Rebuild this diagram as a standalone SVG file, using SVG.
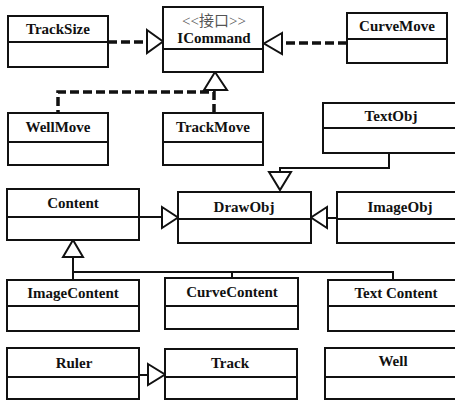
<svg xmlns="http://www.w3.org/2000/svg" width="455" height="403" viewBox="0 0 455 403">
<style>
.box{fill:#fff;stroke:#111;stroke-width:2}
.div{stroke:#111;stroke-width:2}
.t{font-family:'Liberation Serif',serif;font-weight:700;font-size:15px;fill:#111;text-anchor:middle}
.st{font-family:'Liberation Serif','Noto Sans CJK SC',serif;font-size:15px;fill:#555;text-anchor:middle}
.dash{fill:none;stroke:#111;stroke-width:3.5;stroke-dasharray:9,4}
.sol{fill:none;stroke:#111;stroke-width:2}
.tri{fill:#fff;stroke:#111;stroke-width:2}
</style>
<rect width="455" height="403" fill="#fff"/>
<g id="connectors">
<path class="dash" d="M108,42 H147"/>
<polygon class="tri" points="147,30 163,41.5 147,53"/>
<path class="dash" d="M347,43 H282"/>
<polygon class="tri" points="282,33 264,43.5 282,54"/>
<path class="dash" d="M214,113 V92 H58 V113"/>
<polygon class="tri" points="204,90 215,72 227,90"/>
<path class="sol" d="M389,153 V168 H280 V172"/>
<polygon class="tri" points="269,172 280,190 291,172"/>
<path class="sol" d="M139,217 H162"/>
<polygon class="tri" points="162,207 178,217.5 162,228"/>
<path class="sol" d="M337,218 H327"/>
<polygon class="tri" points="327,207 311,217.5 327,228"/>
<path class="sol" d="M73,257 V280 M73,272 H393 V280 M232,272 V278"/>
<polygon class="tri" points="63,257 73,240 83,257"/>
<path class="sol" d="M139,375 H148"/>
<polygon class="tri" points="148,364 165,374.5 148,385"/>
</g>
<g id="TrackSize"><rect class="box" x="8" y="16" width="100" height="51"/><line class="div" x1="8" y1="42" x2="108" y2="42"/><text class="t" x="58" y="34">TrackSize</text></g>
<g id="ICommand"><rect class="box" x="163" y="7" width="100" height="65"/><line class="div" x1="163" y1="49" x2="263" y2="49"/><text class="st" x="214" y="26">&lt;&lt;接口&gt;&gt;</text><text class="t" x="214" y="43">ICommand</text></g>
<g id="CurveMove"><rect class="box" x="347" y="13" width="100" height="50"/><line class="div" x1="347" y1="39" x2="447" y2="39"/><text class="t" x="397" y="31">CurveMove</text></g>
<g id="WellMove"><rect class="box" x="8" y="113" width="100" height="52"/><line class="div" x1="8" y1="142" x2="108" y2="142"/><text class="t" x="58" y="132">WellMove</text></g>
<g id="TrackMove"><rect class="box" x="163" y="113" width="100" height="52"/><line class="div" x1="163" y1="142" x2="263" y2="142"/><text class="t" x="213" y="132">TrackMove</text></g>
<g id="TextObj"><rect class="box" x="323" y="103" width="140" height="50"/><line class="div" x1="323" y1="128" x2="463" y2="128"/><text class="t" x="391" y="121">TextObj</text></g>
<g id="Content"><rect class="box" x="7" y="189" width="132" height="51"/><line class="div" x1="7" y1="217" x2="139" y2="217"/><text class="t" x="73" y="208">Content</text></g>
<g id="DrawObj"><rect class="box" x="178" y="192" width="133" height="51"/><line class="div" x1="178" y1="219" x2="311" y2="219"/><text class="t" x="244" y="212">DrawObj</text></g>
<g id="ImageObj"><rect class="box" x="337" y="192" width="126" height="51"/><line class="div" x1="337" y1="219" x2="463" y2="219"/><text class="t" x="400" y="212">ImageObj</text></g>
<g id="ImageContent"><rect class="box" x="7" y="280" width="132" height="51"/><line class="div" x1="7" y1="306" x2="139" y2="306"/><text class="t" x="73" y="298">ImageContent</text></g>
<g id="CurveContent"><rect class="box" x="165" y="278" width="133" height="51"/><line class="div" x1="165" y1="306" x2="298" y2="306"/><text class="t" x="232" y="297">CurveContent</text></g>
<g id="TextContent"><rect class="box" x="328" y="280" width="135" height="51"/><line class="div" x1="328" y1="306" x2="463" y2="306"/><text class="t" x="396" y="298">Text Content</text></g>
<g id="Ruler"><rect class="box" x="7" y="348" width="132" height="51"/><line class="div" x1="7" y1="377" x2="139" y2="377"/><text class="t" x="74" y="368">Ruler</text></g>
<g id="Track"><rect class="box" x="165" y="349" width="132" height="50"/><line class="div" x1="165" y1="377" x2="297" y2="377"/><text class="t" x="230" y="368">Track</text></g>
<g id="Well"><rect class="box" x="325" y="348" width="138" height="51"/><line class="div" x1="325" y1="377" x2="463" y2="377"/><text class="t" x="393" y="366">Well</text></g>
</svg>
